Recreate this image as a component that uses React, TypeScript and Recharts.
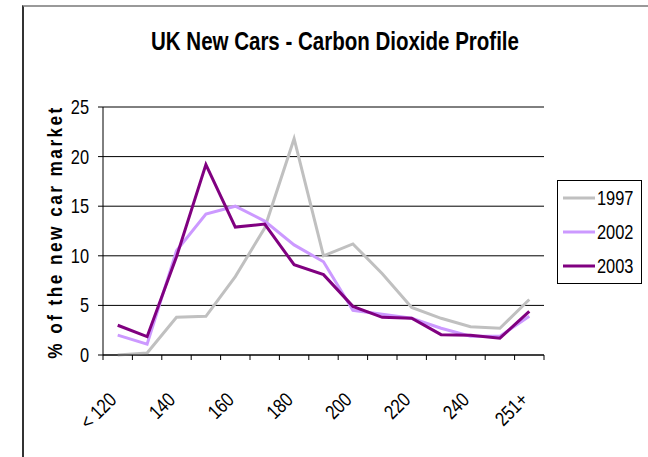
import React from 'react';
import { LineChart, Line, XAxis, YAxis, CartesianGrid, ReferenceLine, Legend } from 'recharts';

// CO2 bands (g/km) and market share per year
const categories = ['< 120', '130', '140', '150', '160', '170', '180', '190', '200', '210', '220', '230', '240', '250', '251+'];
const share1997 = [0, 0.2, 3.8, 3.9, 7.9, 12.8, 21.8, 10.0, 11.2, 8.2, 4.8, 3.7, 2.85, 2.7, 5.6];
const share2002 = [2.0, 1.1, 10.5, 14.2, 15.0, 13.5, 11.1, 9.4, 4.5, 4.1, 3.7, 2.7, 1.9, 1.9, 3.9];
const share2003 = [3.0, 1.85, 9.9, 19.2, 12.9, 13.2, 9.1, 8.1, 4.9, 3.8, 3.7, 2.05, 2.0, 1.7, 4.4];
const yTicks = [0, 5, 10, 15, 20, 25];
const seriesNames = ['1997', '2002', '2003'];
const seriesKeys = ['y1997', 'y2002', 'y2003'];
const seriesColors = ['#c0c0c0', '#cc99ff', '#800080'];

const W = 648;
const H = 457;
const PLOT_LEFT = 103;
const PLOT_RIGHT = 544;
const PLOT_TOP = 107;
const PLOT_BOTTOM = 355;
const LEGEND_W = 85;
const STEP = (PLOT_RIGHT - PLOT_LEFT) / categories.length;
const FONT = "'Liberation Sans', Arial, sans-serif";
// the original uses a narrow face; squeeze a regular one instead
const SX = 0.82;

const data = categories.map((band, i) => ({
  band,
  y1997: share1997[i],
  y2002: share2002[i],
  y2003: share2003[i],
}));

// excel style: tick marks between categories, every other label slanted
const XTick = (props: any) => {
  const { x, y, index, payload } = props;
  const last = index === categories.length - 1;
  const ly = y + 46;
  return (
    <g>
      <line x1={x - STEP / 2} y1={y} x2={x - STEP / 2} y2={y + 5} stroke="#000" />
      {last && <line x1={x + STEP / 2} y1={y} x2={x + STEP / 2} y2={y + 5} stroke="#000" />}
      {index % 2 === 0 && (
        <text
          x={0}
          y={0}
          textAnchor="end"
          transform={`translate(${x} ${ly}) rotate(-45) scale(${SX} 1)`}
          fontFamily={FONT}
          fontSize={20}
          fill="#000"
        >
          {payload.value}
        </text>
      )}
    </g>
  );
};

const YTick = (props: any) => {
  const { x, y, payload } = props;
  return (
    <text
      x={0}
      y={0}
      dy="0.35em"
      textAnchor="end"
      transform={`translate(${x} ${y}) scale(${SX} 1)`}
      fontFamily={FONT}
      fontSize={20}
      fill="#000"
    >
      {payload.value}
    </text>
  );
};

const yLabel = () => (
  <text
    x={0}
    y={0}
    textAnchor="middle"
    transform={`translate(62 232) rotate(-90) scale(${SX} 1)`}
    fontFamily={FONT}
    fontWeight="bold"
    fontSize={21}
    letterSpacing={3}
    fill="#000"
  >
    % of the new car market
  </text>
);

const renderLegend = () => (
  <div
    style={{
      width: LEGEND_W,
      height: 104,
      boxSizing: 'border-box',
      border: '1px solid #000',
      background: '#fff',
      fontFamily: FONT,
      fontSize: 20,
      color: '#000',
    }}
  >
    {seriesNames.map((n, i) => (
      <div key={n} style={{ height: 34, display: 'flex', alignItems: 'center' }}>
        <svg width={40} height={6} style={{ display: 'block' }}>
          <line x1={5} y1={3} x2={39} y2={3} stroke={seriesColors[i]} strokeWidth={3} />
        </svg>
        <span
          style={{
            marginLeft: 2,
            lineHeight: '20px',
            display: 'inline-block',
            transform: `scaleX(${SX})`,
            transformOrigin: 'left center',
          }}
        >
          {n}
        </span>
      </div>
    ))}
  </div>
);

export default function App() {
  return (
    <div style={{ position: 'fixed', left: 0, top: 0, width: W, height: H, overflow: 'hidden', background: '#fff' }}>
      {/* outer chart frame, runs off the picture to the right and bottom */}
      <div
        style={{
          position: 'absolute',
          left: 22,
          top: 5,
          width: 700,
          height: 500,
          borderLeft: '2px solid #333',
          borderTop: '2px solid #999',
        }}
      />
      <div
        style={{
          position: 'absolute',
          left: 35,
          top: 29,
          width: 600,
          textAlign: 'center',
          whiteSpace: 'nowrap',
          fontFamily: FONT,
          fontWeight: 'bold',
          fontSize: 25,
          lineHeight: '24px',
          color: '#000',
          transform: `scaleX(${SX})`,
          transformOrigin: 'center',
        }}
      >
        UK New Cars - Carbon Dioxide Profile
      </div>
      <LineChart
        width={W}
        height={H}
        data={data}
        margin={{ top: PLOT_TOP, left: 0, right: W - PLOT_RIGHT - LEGEND_W, bottom: 0 }}
        style={{ position: 'absolute', left: 0, top: 0 }}
      >
        <CartesianGrid yAxisId="left" horizontal vertical={false} stroke="#000" strokeWidth={1} />
        <XAxis
          dataKey="band"
          interval={0}
          height={H - PLOT_BOTTOM}
          padding={{ left: STEP / 2, right: STEP / 2 }}
          tickLine={false}
          tickSize={0}
          tickMargin={0}
          tick={<XTick />}
          axisLine={{ stroke: '#000' }}
        />
        <YAxis
          yAxisId="left"
          width={PLOT_LEFT}
          domain={[0, 25]}
          ticks={yTicks}
          tickSize={5}
          tickMargin={9}
          tickLine={{ stroke: '#000' }}
          axisLine={{ stroke: '#000' }}
          tick={<YTick />}
          label={yLabel}
        />
        <YAxis
          yAxisId="right"
          orientation="right"
          width={0}
          domain={[0, 25]}
          tick={false}
          tickLine={false}
          axisLine={{ stroke: '#808080' }}
        />
        <ReferenceLine yAxisId="left" y={25} stroke="#808080" />
        {seriesKeys.map((k, i) => (
          <Line
            key={k}
            yAxisId="left"
            type="linear"
            dataKey={k}
            name={seriesNames[i]}
            stroke={seriesColors[i]}
            strokeWidth={3}
            dot={false}
            activeDot={false}
            isAnimationActive={false}
          />
        ))}
        <Legend
          layout="vertical"
          align="right"
          verticalAlign="top"
          wrapperStyle={{ top: 180, right: 6 }}
          content={renderLegend}
        />
      </LineChart>
    </div>
  );
}
